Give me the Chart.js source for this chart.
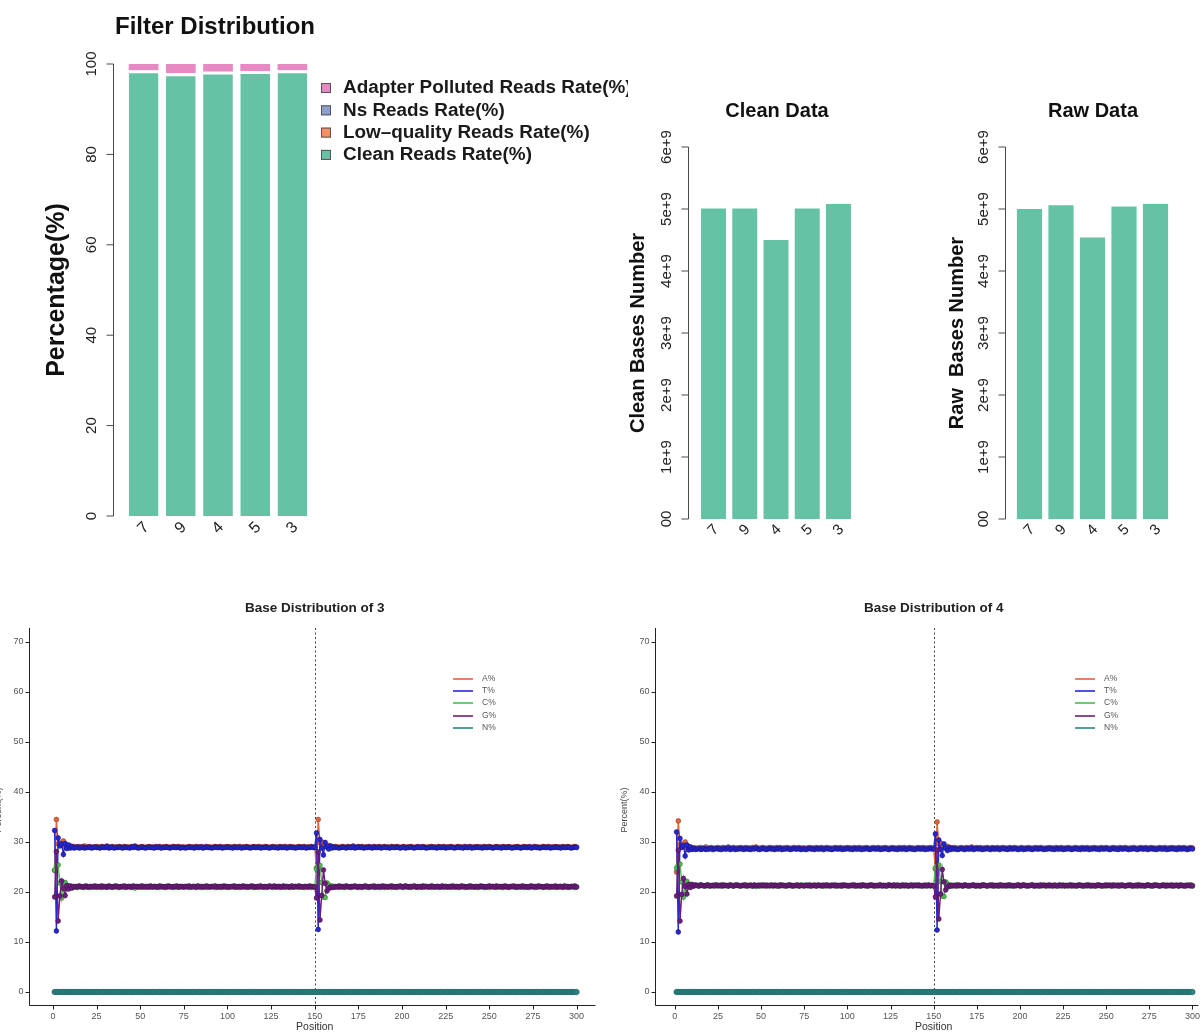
<!DOCTYPE html>
<html lang="en">
<head>
<meta charset="utf-8">
<title>Filter and base distribution</title>
<script src="https://cdn.jsdelivr.net/npm/chart.js@4.4.1/dist/chart.umd.min.js"></script>
<style>
  html, body { margin: 0; padding: 0; background: #fff; }
  #fig { position: relative; width: 1203px; height: 1032px; overflow: hidden; background: #fff; }
  #fig canvas { position: absolute; }
</style>
</head>
<body>
<div id="fig">
  <canvas id="filterChart" width="628" height="560" style="left:0px;top:0px;width:628px;height:560px"></canvas>
  <canvas id="cleanChart" width="320" height="470" style="left:620px;top:80px;width:320px;height:470px"></canvas>
  <canvas id="rawChart" width="263" height="470" style="left:940px;top:80px;width:263px;height:470px"></canvas>
  <canvas id="base3Chart" width="600" height="442" style="left:0px;top:590px;width:600px;height:442px"></canvas>
  <canvas id="base4Chart" width="603" height="442" style="left:600px;top:590px;width:603px;height:442px"></canvas>
</div>
<script>
// ---------- read filtering (percent of reads per sample) ----------
const samples = ['7', '9', '4', '5', '3'];
const cleanReadsRate = [98.2, 97.5, 97.9, 98.0, 98.2];
const lowQualityRate = [0.37, 0.45, 0.37, 0.37, 0.37];
const nsReadsRate = [0.05, 0.05, 0.05, 0.05, 0.05];
const adapterRate = [1.38, 2.0, 1.68, 1.58, 1.38];
const pctTicks = [0, 20, 40, 60, 80, 100];
const pctTickLabels = ['0', '20', '40', '60', '80', '100'];

// ---------- bases per sample ----------
const cleanBases = [5.01e9, 5.01e9, 4.50e9, 5.01e9, 5.08e9];
const rawBases = [5.00e9, 5.06e9, 4.54e9, 5.04e9, 5.08e9];
const baseTicks = [0, 1e9, 2e9, 3e9, 4e9, 5e9, 6e9];
const baseTickLabels = ['00', '1e+9', '2e+9', '3e+9', '4e+9', '5e+9', '6e+9'];

// ---------- base composition along the read (read 1: 1-150, read 2: 151-300) ----------
const positionTicks = [0, 25, 50, 75, 100, 125, 150, 175, 200, 225, 250, 275, 300];
const percentTicks = [0, 10, 20, 30, 40, 50, 60, 70];
const readBoundary = 150;

// sample 3
const aPct3 = [
24.3,34.5,29.6,29.8,29.4,30.2,29.1,29.3,28.8,29.2,29.0,29.1,28.9,29.0,29.1,28.9,29.0,29.2,28.9,29.0,29.1,29.0,28.9,29.0,29.1,
29.0,28.9,29.1,29.0,29.0,29.2,28.9,29.0,29.1,28.9,29.0,29.0,29.1,29.0,28.9,29.1,29.0,29.0,28.9,29.1,29.0,29.2,29.0,28.9,29.0,
29.1,29.0,28.9,29.0,29.1,29.0,29.0,28.9,29.1,29.0,29.1,28.9,29.0,29.0,29.1,29.0,28.9,29.0,29.1,29.0,29.0,29.1,28.9,29.0,29.0,
28.9,29.0,29.1,29.0,29.0,28.9,29.1,29.0,29.0,29.1,28.9,29.0,29.1,29.0,29.0,28.9,29.0,29.1,29.0,29.0,29.1,28.9,29.0,29.0,29.1,
29.0,29.0,28.9,29.1,29.0,29.0,29.1,28.9,29.0,29.0,29.1,29.0,28.9,29.0,29.1,29.0,29.0,29.1,28.9,29.0,29.0,29.1,29.0,28.9,29.0,
29.1,29.0,29.0,28.9,29.1,29.0,29.0,29.1,28.9,29.0,29.1,29.0,29.0,28.9,29.0,29.1,29.0,29.0,29.1,28.9,29.0,29.0,29.1,29.0,29.0,
24.8,34.5,29.8,30.0,29.2,29.5,29.0,29.3,28.9,29.1,29.0,29.1,29.0,28.9,29.0,29.1,29.0,28.9,29.1,29.0,29.0,29.2,28.9,29.0,29.1,
29.0,29.1,28.9,29.0,29.0,29.1,29.0,28.9,29.1,29.0,29.0,29.1,28.9,29.0,29.1,29.0,29.0,28.9,29.1,29.0,29.0,29.1,29.0,28.9,29.0,
29.1,28.9,29.0,29.0,29.1,29.0,28.9,29.0,29.1,29.0,29.0,29.1,29.0,28.9,29.0,29.0,29.1,29.0,29.0,28.9,29.1,29.0,29.0,29.1,28.9,
29.0,29.0,29.1,29.0,28.9,29.0,29.1,29.0,29.0,28.9,29.1,29.0,29.0,29.1,28.9,29.0,29.0,29.1,29.0,29.0,28.9,29.1,29.0,29.0,29.1,
29.0,28.9,29.0,29.1,29.0,29.0,28.9,29.1,29.0,29.0,29.1,29.0,28.9,29.0,29.0,29.1,29.0,28.9,29.0,29.1,29.0,29.0,29.1,28.9,29.0,
29.1,29.0,29.0,28.9,29.0,29.1,29.0,29.0,29.1,28.9,29.0,29.0,29.1,29.0,29.0,28.9,29.1,29.0,29.0,29.1,29.0,28.9,29.0,29.1,29.0
];
const tPct3 = [
32.3,12.2,30.8,29.2,29.6,27.5,29.7,28.7,29.4,28.8,29.1,28.8,28.9,29.0,28.8,28.9,29.0,28.8,28.9,28.9,29.0,28.8,28.9,29.0,28.9,
28.9,28.8,29.0,28.9,28.9,29.1,28.8,28.9,29.0,28.8,28.9,28.9,29.0,28.9,28.8,29.0,28.9,28.9,28.8,29.0,28.9,29.1,28.9,28.8,28.9,
29.0,28.9,28.8,28.9,29.0,28.9,28.9,28.8,29.0,28.9,29.0,28.8,28.9,28.9,29.0,28.9,28.8,28.9,29.0,28.9,28.9,29.0,28.8,28.9,28.9,
28.8,28.9,29.0,28.9,28.9,28.8,29.0,28.9,28.9,29.0,28.8,28.9,29.0,28.9,28.9,28.8,28.9,29.0,28.9,28.9,29.0,28.8,28.9,28.9,29.0,
28.9,28.9,28.8,29.0,28.9,28.9,29.0,28.8,28.9,28.9,29.0,28.9,28.8,28.9,29.0,28.9,28.9,29.0,28.8,28.9,28.9,29.0,28.9,28.8,28.9,
29.0,28.9,28.9,28.8,29.0,28.9,28.9,29.0,28.8,28.9,29.0,28.9,28.9,28.8,28.9,29.0,28.9,28.9,29.0,28.8,28.9,28.9,29.0,28.9,28.9,
31.8,12.5,30.5,28.8,27.4,29.9,29.0,28.6,29.2,28.8,29.0,28.9,28.9,28.8,28.9,29.0,28.9,28.8,29.0,28.9,28.9,29.1,28.8,28.9,29.0,
28.9,29.0,28.8,28.9,28.9,29.0,28.9,28.8,29.0,28.9,28.9,29.0,28.8,28.9,29.0,28.9,28.9,28.8,29.0,28.9,28.9,29.0,28.9,28.8,28.9,
29.0,28.8,28.9,28.9,29.0,28.9,28.8,28.9,29.0,28.9,28.9,29.0,28.9,28.8,28.9,28.9,29.0,28.9,28.9,28.8,29.0,28.9,28.9,29.0,28.8,
28.9,28.9,29.0,28.9,28.8,28.9,29.0,28.9,28.9,28.8,29.0,28.9,28.9,29.0,28.8,28.9,28.9,29.0,28.9,28.9,28.8,29.0,28.9,28.9,29.0,
28.9,28.8,28.9,29.0,28.9,28.9,28.8,29.0,28.9,28.9,29.0,28.9,28.8,28.9,28.9,29.0,28.9,28.8,28.9,29.0,28.9,28.9,29.0,28.8,28.9,
29.0,28.9,28.9,28.8,28.9,29.0,28.9,28.9,29.0,28.8,28.9,28.9,29.0,28.9,28.9,28.8,29.0,28.9,28.9,29.0,28.9,28.8,28.9,29.0,28.9
];
const cPct3 = [
24.4,25.2,25.4,21.8,18.8,21.6,21.9,20.7,21.2,20.8,21.1,21.0,21.0,20.9,21.1,21.0,21.0,20.9,21.1,21.0,20.9,21.0,21.1,21.0,20.9,
21.0,21.1,20.9,21.0,21.0,20.9,21.1,21.0,20.9,21.1,21.0,21.0,20.9,21.0,21.1,20.9,21.0,21.0,21.1,20.9,21.0,20.8,21.0,21.1,21.0,
20.9,21.0,21.1,21.0,20.9,21.0,21.0,21.1,20.9,21.0,20.9,21.1,21.0,21.0,20.9,21.0,21.1,21.0,20.9,21.0,21.0,20.9,21.1,21.0,21.0,
21.1,21.0,20.9,21.0,21.0,21.1,20.9,21.0,21.0,20.9,21.1,21.0,20.9,21.0,21.0,21.1,21.0,20.9,21.0,21.0,20.9,21.1,21.0,21.0,20.9,
21.0,21.0,21.1,20.9,21.0,21.0,20.9,21.1,21.0,21.0,20.9,21.0,21.1,21.0,20.9,21.0,21.0,20.9,21.1,21.0,21.0,20.9,21.0,21.1,21.0,
20.9,21.0,21.0,21.1,20.9,21.0,21.0,20.9,21.1,21.0,20.9,21.0,21.0,21.1,21.0,20.9,21.0,21.0,20.9,21.1,21.0,21.0,20.9,21.0,21.0,
24.6,25.0,25.3,21.9,19.0,18.9,21.8,21.4,20.9,21.2,21.0,21.0,21.1,20.9,21.0,21.0,20.9,21.1,21.0,21.0,20.9,21.0,21.1,21.0,20.9,
21.0,20.9,21.1,21.0,21.0,20.9,21.0,21.1,20.9,21.0,21.0,20.9,21.1,21.0,20.9,21.0,21.0,21.1,20.9,21.0,21.0,20.9,21.0,21.1,21.0,
20.9,21.1,21.0,21.0,20.9,21.0,21.1,21.0,20.9,21.0,21.0,20.9,21.0,21.1,21.0,21.0,20.9,21.0,21.0,21.1,20.9,21.0,21.0,20.9,21.1,
21.0,21.0,20.9,21.0,21.1,21.0,20.9,21.0,21.0,21.1,20.9,21.0,21.0,20.9,21.1,21.0,21.0,20.9,21.0,21.0,21.1,20.9,21.0,21.0,20.9,
21.0,21.1,21.0,20.9,21.0,21.0,21.1,20.9,21.0,21.0,20.9,21.0,21.1,21.0,21.0,20.9,21.0,21.1,21.0,20.9,21.0,21.0,20.9,21.1,21.0,
20.9,21.0,21.0,21.1,21.0,20.9,21.0,21.0,20.9,21.1,21.0,21.0,20.9,21.0,21.0,21.1,20.9,21.0,21.0,20.9,21.0,21.1,21.0,20.9,21.0
];
const gPct3 = [
19.0,28.1,14.2,19.2,22.2,20.7,19.3,21.3,20.6,21.2,20.8,21.1,21.1,21.0,21.2,21.1,21.0,21.1,21.2,21.0,21.1,21.1,21.0,21.2,21.1,
21.1,21.0,21.2,21.1,21.1,21.0,21.2,21.1,21.0,21.1,21.2,21.1,21.0,21.1,21.1,21.2,21.0,21.1,21.1,21.0,21.2,21.1,21.1,21.0,21.1,
21.2,21.1,21.0,21.1,21.1,21.2,21.0,21.1,21.1,21.0,21.2,21.1,21.1,21.0,21.1,21.2,21.1,21.0,21.1,21.1,21.2,21.0,21.1,21.1,21.0,
21.1,21.1,21.2,21.0,21.1,21.1,21.0,21.2,21.1,21.1,21.0,21.1,21.2,21.1,21.0,21.1,21.1,21.2,21.0,21.1,21.1,21.0,21.2,21.1,21.1,
21.0,21.1,21.1,21.2,21.0,21.1,21.1,21.0,21.2,21.1,21.1,21.0,21.1,21.2,21.1,21.0,21.1,21.1,21.2,21.0,21.1,21.1,21.0,21.2,21.1,
21.1,21.2,21.0,21.1,21.1,21.0,21.2,21.1,21.1,21.0,21.1,21.2,21.0,21.1,21.1,21.2,21.1,21.0,21.1,21.1,21.0,21.2,21.1,21.1,21.0,
18.8,28.0,14.4,19.3,24.4,21.7,20.2,20.7,21.0,20.9,21.0,21.1,21.0,21.2,21.1,21.1,21.0,21.2,21.1,21.0,21.1,21.1,21.2,21.0,21.1,
21.1,21.0,21.1,21.2,21.1,21.0,21.1,21.1,21.2,21.0,21.1,21.1,21.0,21.2,21.1,21.1,21.0,21.1,21.2,21.1,21.0,21.1,21.1,21.2,21.0,
21.1,21.2,21.1,21.0,21.1,21.1,21.2,21.0,21.1,21.1,21.0,21.2,21.1,21.1,21.0,21.1,21.2,21.1,21.0,21.1,21.1,21.0,21.2,21.1,21.1,
21.0,21.1,21.1,21.2,21.0,21.1,21.1,21.0,21.2,21.1,21.1,21.0,21.1,21.2,21.1,21.0,21.1,21.1,21.0,21.2,21.1,21.1,21.0,21.1,21.2,
21.1,21.1,21.0,21.2,21.1,21.1,21.0,21.1,21.2,21.1,21.0,21.1,21.1,21.2,21.0,21.1,21.1,21.0,21.2,21.1,21.1,21.0,21.1,21.2,21.1,
21.1,21.0,21.2,21.1,21.1,21.0,21.1,21.2,21.1,21.0,21.1,21.1,21.2,21.0,21.1,21.1,21.0,21.2,21.1,21.1,21.0,21.1,21.1,21.2,21.0
];
const nPct3 = [
0,0,0,0,0,0,0,0,0,0,0,0,0,0,0,0,0,0,0,0,0,0,0,0,0,
0,0,0,0,0,0,0,0,0,0,0,0,0,0,0,0,0,0,0,0,0,0,0,0,0,
0,0,0,0,0,0,0,0,0,0,0,0,0,0,0,0,0,0,0,0,0,0,0,0,0,
0,0,0,0,0,0,0,0,0,0,0,0,0,0,0,0,0,0,0,0,0,0,0,0,0,
0,0,0,0,0,0,0,0,0,0,0,0,0,0,0,0,0,0,0,0,0,0,0,0,0,
0,0,0,0,0,0,0,0,0,0,0,0,0,0,0,0,0,0,0,0,0,0,0,0,0,
0,0,0,0,0,0,0,0,0,0,0,0,0,0,0,0,0,0,0,0,0,0,0,0,0,
0,0,0,0,0,0,0,0,0,0,0,0,0,0,0,0,0,0,0,0,0,0,0,0,0,
0,0,0,0,0,0,0,0,0,0,0,0,0,0,0,0,0,0,0,0,0,0,0,0,0,
0,0,0,0,0,0,0,0,0,0,0,0,0,0,0,0,0,0,0,0,0,0,0,0,0,
0,0,0,0,0,0,0,0,0,0,0,0,0,0,0,0,0,0,0,0,0,0,0,0,0,
0,0,0,0,0,0,0,0,0,0,0,0,0,0,0,0,0,0,0,0,0,0,0,0,0
];

// sample 4
const aPct4 = [
24.0,34.2,29.5,29.6,29.0,30.0,28.9,29.1,28.6,28.9,28.8,28.8,28.7,28.8,28.9,28.7,28.8,29.0,28.7,28.8,28.9,28.8,28.7,28.8,28.9,
28.8,28.7,28.9,28.8,28.8,29.0,28.7,28.8,28.9,28.7,28.8,28.8,28.9,28.8,28.7,28.9,28.8,28.8,28.7,28.9,28.8,29.0,28.8,28.7,28.8,
28.9,28.8,28.7,28.8,28.9,28.8,28.8,28.7,28.9,28.8,28.9,28.7,28.8,28.8,28.9,28.8,28.7,28.8,28.9,28.8,28.8,28.9,28.7,28.8,28.8,
28.7,28.8,28.9,28.8,28.8,28.7,28.9,28.8,28.8,28.9,28.7,28.8,28.9,28.8,28.8,28.7,28.8,28.9,28.8,28.8,28.9,28.7,28.8,28.8,28.9,
28.8,28.8,28.7,28.9,28.8,28.8,28.9,28.7,28.8,28.8,28.9,28.8,28.7,28.8,28.9,28.8,28.8,28.9,28.7,28.8,28.8,28.9,28.8,28.7,28.8,
28.9,28.8,28.8,28.7,28.9,28.8,28.8,28.9,28.7,28.8,28.9,28.8,28.8,28.7,28.8,28.9,28.8,28.8,28.9,28.7,28.8,28.8,28.9,28.8,28.8,
24.6,34.0,29.6,29.8,29.0,29.3,28.8,29.1,28.7,28.9,28.8,28.9,28.8,28.7,28.8,28.9,28.8,28.7,28.9,28.8,28.8,29.0,28.7,28.8,28.9,
28.8,28.9,28.7,28.8,28.8,28.9,28.8,28.7,28.9,28.8,28.8,28.9,28.7,28.8,28.9,28.8,28.8,28.7,28.9,28.8,28.8,28.9,28.8,28.7,28.8,
28.9,28.7,28.8,28.8,28.9,28.8,28.7,28.8,28.9,28.8,28.8,28.9,28.8,28.7,28.8,28.8,28.9,28.8,28.8,28.7,28.9,28.8,28.8,28.9,28.7,
28.8,28.8,28.9,28.8,28.7,28.8,28.9,28.8,28.8,28.7,28.9,28.8,28.8,28.9,28.7,28.8,28.8,28.9,28.8,28.8,28.7,28.9,28.8,28.8,28.9,
28.8,28.7,28.8,28.9,28.8,28.8,28.7,28.9,28.8,28.8,28.9,28.8,28.7,28.8,28.8,28.9,28.8,28.7,28.8,28.9,28.8,28.8,28.9,28.7,28.8,
28.9,28.8,28.8,28.7,28.8,28.9,28.8,28.8,28.9,28.7,28.8,28.8,28.9,28.8,28.8,28.7,28.9,28.8,28.8,28.9,28.8,28.7,28.8,28.9,28.8
];
const tPct4 = [
32.0,12.0,30.7,28.9,29.3,27.2,29.4,28.4,29.0,28.5,28.7,28.5,28.6,28.7,28.5,28.6,28.7,28.5,28.6,28.6,28.7,28.5,28.6,28.7,28.6,
28.6,28.5,28.7,28.6,28.6,28.8,28.5,28.6,28.7,28.5,28.6,28.6,28.7,28.6,28.5,28.7,28.6,28.6,28.5,28.7,28.6,28.8,28.6,28.5,28.6,
28.7,28.6,28.5,28.6,28.7,28.6,28.6,28.5,28.7,28.6,28.7,28.5,28.6,28.6,28.7,28.6,28.5,28.6,28.7,28.6,28.6,28.7,28.5,28.6,28.6,
28.5,28.6,28.7,28.6,28.6,28.5,28.7,28.6,28.6,28.7,28.5,28.6,28.7,28.6,28.6,28.5,28.6,28.7,28.6,28.6,28.7,28.5,28.6,28.6,28.7,
28.6,28.6,28.5,28.7,28.6,28.6,28.7,28.5,28.6,28.6,28.7,28.6,28.5,28.6,28.7,28.6,28.6,28.7,28.5,28.6,28.6,28.7,28.6,28.5,28.6,
28.7,28.6,28.6,28.5,28.7,28.6,28.6,28.7,28.5,28.6,28.7,28.6,28.6,28.5,28.6,28.7,28.6,28.6,28.7,28.5,28.6,28.6,28.7,28.6,28.6,
31.6,12.4,30.4,28.5,27.3,29.6,28.8,28.3,28.9,28.5,28.7,28.6,28.6,28.5,28.6,28.7,28.6,28.5,28.7,28.6,28.6,28.8,28.5,28.6,28.7,
28.6,28.7,28.5,28.6,28.6,28.7,28.6,28.5,28.7,28.6,28.6,28.7,28.5,28.6,28.7,28.6,28.6,28.5,28.7,28.6,28.6,28.7,28.6,28.5,28.6,
28.7,28.5,28.6,28.6,28.7,28.6,28.5,28.6,28.7,28.6,28.6,28.7,28.6,28.5,28.6,28.6,28.7,28.6,28.6,28.5,28.7,28.6,28.6,28.7,28.5,
28.6,28.6,28.7,28.6,28.5,28.6,28.7,28.6,28.6,28.5,28.7,28.6,28.6,28.7,28.5,28.6,28.6,28.7,28.6,28.6,28.5,28.7,28.6,28.6,28.7,
28.6,28.5,28.6,28.7,28.6,28.6,28.5,28.7,28.6,28.6,28.7,28.6,28.5,28.6,28.6,28.7,28.6,28.5,28.6,28.7,28.6,28.6,28.7,28.5,28.6,
28.7,28.6,28.6,28.5,28.6,28.7,28.6,28.6,28.7,28.5,28.6,28.6,28.7,28.6,28.6,28.5,28.7,28.6,28.6,28.7,28.6,28.5,28.6,28.7,28.6
];
const cPct4 = [
24.8,25.4,25.6,22.0,19.0,21.7,22.1,21.0,21.5,21.1,21.3,21.3,21.3,21.2,21.4,21.3,21.3,21.2,21.4,21.3,21.2,21.3,21.4,21.3,21.2,
21.3,21.4,21.2,21.3,21.3,21.2,21.4,21.3,21.2,21.4,21.3,21.3,21.2,21.3,21.4,21.2,21.3,21.3,21.4,21.2,21.3,21.1,21.3,21.4,21.3,
21.2,21.3,21.4,21.3,21.2,21.3,21.3,21.4,21.2,21.3,21.2,21.4,21.3,21.3,21.2,21.3,21.4,21.3,21.2,21.3,21.3,21.2,21.4,21.3,21.3,
21.4,21.3,21.2,21.3,21.3,21.4,21.2,21.3,21.3,21.2,21.4,21.3,21.2,21.3,21.3,21.4,21.3,21.2,21.3,21.3,21.2,21.4,21.3,21.3,21.2,
21.3,21.3,21.4,21.2,21.3,21.3,21.2,21.4,21.3,21.3,21.2,21.3,21.4,21.3,21.2,21.3,21.3,21.2,21.4,21.3,21.3,21.2,21.3,21.4,21.3,
21.2,21.3,21.3,21.4,21.2,21.3,21.3,21.2,21.4,21.3,21.2,21.3,21.3,21.4,21.3,21.2,21.3,21.3,21.2,21.4,21.3,21.3,21.2,21.3,21.3,
24.8,25.2,25.4,22.1,19.2,19.1,22.0,21.6,21.1,21.4,21.2,21.3,21.4,21.2,21.3,21.3,21.2,21.4,21.3,21.3,21.2,21.3,21.4,21.3,21.2,
21.3,21.2,21.4,21.3,21.3,21.2,21.3,21.4,21.2,21.3,21.3,21.2,21.4,21.3,21.2,21.3,21.3,21.4,21.2,21.3,21.3,21.2,21.3,21.4,21.3,
21.2,21.4,21.3,21.3,21.2,21.3,21.4,21.3,21.2,21.3,21.3,21.2,21.3,21.4,21.3,21.3,21.2,21.3,21.3,21.4,21.2,21.3,21.3,21.2,21.4,
21.3,21.3,21.2,21.3,21.4,21.3,21.2,21.3,21.3,21.4,21.2,21.3,21.3,21.2,21.4,21.3,21.3,21.2,21.3,21.3,21.4,21.2,21.3,21.3,21.2,
21.3,21.4,21.3,21.2,21.3,21.3,21.4,21.2,21.3,21.3,21.2,21.3,21.4,21.3,21.3,21.2,21.3,21.4,21.3,21.2,21.3,21.3,21.2,21.4,21.3,
21.2,21.3,21.3,21.4,21.3,21.2,21.3,21.3,21.2,21.4,21.3,21.3,21.2,21.3,21.3,21.4,21.2,21.3,21.3,21.2,21.3,21.4,21.3,21.2,21.3
];
const gPct4 = [
19.2,28.4,14.2,19.5,22.7,21.1,19.6,21.5,20.9,21.5,21.2,21.4,21.3,21.2,21.4,21.3,21.2,21.3,21.4,21.2,21.3,21.3,21.2,21.4,21.3,
21.3,21.2,21.4,21.3,21.3,21.2,21.4,21.3,21.2,21.3,21.4,21.3,21.2,21.3,21.3,21.4,21.2,21.3,21.3,21.2,21.4,21.3,21.3,21.2,21.3,
21.4,21.3,21.2,21.3,21.3,21.4,21.2,21.3,21.3,21.2,21.4,21.3,21.3,21.2,21.3,21.4,21.3,21.2,21.3,21.3,21.4,21.2,21.3,21.3,21.2,
21.3,21.3,21.4,21.2,21.3,21.3,21.2,21.4,21.3,21.3,21.2,21.3,21.4,21.3,21.2,21.3,21.3,21.4,21.2,21.3,21.3,21.2,21.4,21.3,21.3,
21.2,21.3,21.3,21.4,21.2,21.3,21.3,21.2,21.4,21.3,21.3,21.2,21.3,21.4,21.3,21.2,21.3,21.3,21.4,21.2,21.3,21.3,21.2,21.4,21.3,
21.3,21.4,21.2,21.3,21.3,21.2,21.4,21.3,21.3,21.2,21.3,21.4,21.2,21.3,21.3,21.4,21.3,21.2,21.3,21.3,21.2,21.4,21.3,21.3,21.2,
19.0,28.4,14.6,19.6,24.5,22.0,20.4,21.0,21.3,21.2,21.3,21.3,21.2,21.4,21.3,21.3,21.2,21.4,21.3,21.2,21.3,21.3,21.4,21.2,21.3,
21.3,21.2,21.3,21.4,21.3,21.2,21.3,21.3,21.4,21.2,21.3,21.3,21.2,21.4,21.3,21.3,21.2,21.3,21.4,21.3,21.2,21.3,21.3,21.4,21.2,
21.3,21.4,21.3,21.2,21.3,21.3,21.4,21.2,21.3,21.3,21.2,21.4,21.3,21.3,21.2,21.3,21.4,21.3,21.2,21.3,21.3,21.2,21.4,21.3,21.3,
21.2,21.3,21.3,21.4,21.2,21.3,21.3,21.2,21.4,21.3,21.3,21.2,21.3,21.4,21.3,21.2,21.3,21.3,21.2,21.4,21.3,21.3,21.2,21.3,21.4,
21.3,21.3,21.2,21.4,21.3,21.3,21.2,21.3,21.4,21.3,21.2,21.3,21.3,21.4,21.2,21.3,21.3,21.2,21.4,21.3,21.3,21.2,21.3,21.4,21.3,
21.3,21.2,21.4,21.3,21.3,21.2,21.3,21.4,21.3,21.2,21.3,21.3,21.4,21.2,21.3,21.3,21.2,21.4,21.3,21.3,21.2,21.3,21.3,21.4,21.2
];
const nPct4 = [
0,0,0,0,0,0,0,0,0,0,0,0,0,0,0,0,0,0,0,0,0,0,0,0,0,
0,0,0,0,0,0,0,0,0,0,0,0,0,0,0,0,0,0,0,0,0,0,0,0,0,
0,0,0,0,0,0,0,0,0,0,0,0,0,0,0,0,0,0,0,0,0,0,0,0,0,
0,0,0,0,0,0,0,0,0,0,0,0,0,0,0,0,0,0,0,0,0,0,0,0,0,
0,0,0,0,0,0,0,0,0,0,0,0,0,0,0,0,0,0,0,0,0,0,0,0,0,
0,0,0,0,0,0,0,0,0,0,0,0,0,0,0,0,0,0,0,0,0,0,0,0,0,
0,0,0,0,0,0,0,0,0,0,0,0,0,0,0,0,0,0,0,0,0,0,0,0,0,
0,0,0,0,0,0,0,0,0,0,0,0,0,0,0,0,0,0,0,0,0,0,0,0,0,
0,0,0,0,0,0,0,0,0,0,0,0,0,0,0,0,0,0,0,0,0,0,0,0,0,
0,0,0,0,0,0,0,0,0,0,0,0,0,0,0,0,0,0,0,0,0,0,0,0,0,
0,0,0,0,0,0,0,0,0,0,0,0,0,0,0,0,0,0,0,0,0,0,0,0,0,
0,0,0,0,0,0,0,0,0,0,0,0,0,0,0,0,0,0,0,0,0,0,0,0,0
];

// read positions 1..300
const positions = Array.from({ length: aPct3.length }, (_, i) => i + 1);

// ---------- styling ----------
const FONT = '"Liberation Sans", Arial, Helvetica, sans-serif';
const GREEN = '#66C2A5', ORANGE = '#FC8D62', BLUE = '#8DA0CB', PINK = '#E78AC3';
const BASE_COLORS = { 'A%': '#E2653A', 'T%': '#2626D2', 'C%': '#4DBF4D', 'G%': '#6C1E7C', 'N%': '#2B8583' };
const BASE_EDGES = { 'A%': '#9A3A1C', 'T%': '#15157A', 'C%': '#2D7A2D', 'G%': '#43104D', 'N%': '#1E5F5D' };

function drawText(ctx, s, x, y, font, color, angleDeg, align, baseline) {
  ctx.save();
  ctx.translate(x, y);
  if (angleDeg) ctx.rotate(angleDeg * Math.PI / 180);
  ctx.font = font;
  ctx.fillStyle = color;
  ctx.textAlign = align || 'center';
  ctx.textBaseline = baseline || 'middle';
  ctx.fillText(s, 0, 0);
  ctx.restore();
}

// R-style detached left axis, rotated labels, titles and optional legend for the bar panels
const barDecor = {
  id: 'barDecor',
  afterDraw(chart, args, o) {
    const ctx = chart.ctx, xs = chart.scales.x, ys = chart.scales.y, ca = chart.chartArea;
    ctx.save();
    ctx.strokeStyle = '#4a4a4a';
    ctx.lineWidth = 1;
    const ax = o.axisX + 0.5;
    ctx.beginPath();
    ctx.moveTo(ax, ys.getPixelForValue(o.ticks[0]));
    ctx.lineTo(ax, ys.getPixelForValue(o.ticks[o.ticks.length - 1]));
    o.ticks.forEach(v => {
      const p = ys.getPixelForValue(v);
      ctx.moveTo(ax, p);
      ctx.lineTo(ax - o.tickLen, p);
    });
    ctx.stroke();
    o.ticks.forEach((v, i) => drawText(ctx, o.tickLabels[i], o.labelX, ys.getPixelForValue(v), o.tickFont, '#222', -90));
    chart.data.labels.forEach((lab, i) => drawText(ctx, lab, xs.getPixelForValue(i), o.catY, o.catFont, '#222', -45));
    drawText(ctx, o.yTitle, o.yTitleX, (ca.top + ca.bottom) / 2, o.yTitleFont, '#111', -90);
    drawText(ctx, o.title, o.titleX, o.titleY, o.titleFont, '#111', 0, o.titleAlign || 'center');
    if (o.legend) {
      const L = o.legend;
      chart.data.datasets.slice().reverse().forEach((ds, i) => {
        const y = L.y + i * L.step;
        ctx.fillStyle = ds.backgroundColor;
        ctx.fillRect(L.x, y - L.box / 2, L.box, L.box);
        ctx.strokeStyle = '#555';
        ctx.lineWidth = 1;
        ctx.strokeRect(L.x + 0.5, y - L.box / 2 + 0.5, L.box - 1, L.box - 1);
        drawText(ctx, ds.label, L.textX, y, L.font, '#1a1a1a', 0, 'left');
      });
    }
    ctx.restore();
  }
};

function barOptions(pad, ymax, decor) {
  return {
    responsive: false, animation: false, devicePixelRatio: 1,
    layout: { padding: pad },
    scales: {
      x: { display: false, stacked: true, offset: true },
      y: { display: false, stacked: true, min: 0, max: ymax }
    },
    datasets: { bar: { barPercentage: 0.8, categoryPercentage: 1 } },
    plugins: { legend: { display: false }, tooltip: { enabled: false }, barDecor: decor }
  };
}

// Filter Distribution (stacked percentages)
new Chart(document.getElementById('filterChart'), {
  type: 'bar',
  data: {
    labels: samples,
    datasets: [
      { label: 'Clean Reads Rate(%)', data: cleanReadsRate, backgroundColor: GREEN, borderColor: '#fff',
        borderWidth: { top: 1, bottom: 0, left: 0, right: 0 }, borderSkipped: false },
      { label: 'Low\u2013quality Reads Rate(%)', data: lowQualityRate, backgroundColor: ORANGE, borderColor: '#fff',
        borderWidth: 4, borderSkipped: false },
      { label: 'Ns Reads Rate(%)', data: nsReadsRate, backgroundColor: BLUE, borderColor: '#fff',
        borderWidth: 4, borderSkipped: false },
      { label: 'Adapter Polluted Reads Rate(%)', data: adapterRate, backgroundColor: PINK, borderWidth: 0 }
    ]
  },
  options: barOptions({ left: 125, right: 317, top: 64, bottom: 44 }, 100, {
    axisX: 113, tickLen: 7, labelX: 92, ticks: pctTicks, tickLabels: pctTickLabels, tickFont: '15px ' + FONT,
    catY: 528, catFont: '16px ' + FONT,
    yTitle: 'Percentage(%)', yTitleX: 57, yTitleFont: 'bold 25px ' + FONT,
    title: 'Filter Distribution', titleX: 115, titleY: 27, titleAlign: 'left', titleFont: 'bold 24px ' + FONT,
    legend: { x: 321, y: 88, step: 22.3, box: 10, textX: 343, font: 'bold 18.9px ' + FONT }
  }),
  plugins: [barDecor]
});

// Clean Data
new Chart(document.getElementById('cleanChart'), {
  type: 'bar',
  data: { labels: samples, datasets: [{ label: 'Clean Bases Number', data: cleanBases, backgroundColor: GREEN, borderWidth: 0 }] },
  options: barOptions({ left: 77.9, right: 85.9, top: 67, bottom: 31 }, 6e9, {
    axisX: 68, tickLen: 7, labelX: 47, ticks: baseTicks, tickLabels: baseTickLabels, tickFont: '15px ' + FONT,
    catY: 450, catFont: '15px ' + FONT,
    yTitle: 'Clean Bases Number', yTitleX: 18, yTitleFont: 'bold 20px ' + FONT,
    title: 'Clean Data', titleX: 157, titleY: 31, titleFont: 'bold 20px ' + FONT
  }),
  plugins: [barDecor]
});

// Raw Data
new Chart(document.getElementById('rawChart'), {
  type: 'bar',
  data: { labels: samples, datasets: [{ label: 'Raw Bases Number', data: rawBases, backgroundColor: GREEN, borderWidth: 0 }] },
  options: barOptions({ left: 73.75, right: 31.75, top: 67, bottom: 31 }, 6e9, {
    axisX: 65, tickLen: 7, labelX: 44, ticks: baseTicks, tickLabels: baseTickLabels, tickFont: '15px ' + FONT,
    catY: 450, catFont: '15px ' + FONT,
    yTitle: 'Raw  Bases Number', yTitleX: 17, yTitleFont: 'bold 20px ' + FONT,
    title: 'Raw Data', titleX: 153, titleY: 31, titleFont: 'bold 20px ' + FONT
  }),
  plugins: [barDecor]
});

// L-shaped axes, read boundary, title and legend for the composition panels
const compDecor = {
  id: 'compDecor',
  beforeDatasetsDraw(chart, args, o) {
    const ctx = chart.ctx, ca = chart.chartArea, xs = chart.scales.x;
    const x = Math.round(xs.getPixelForValue(o.divider)) + 0.5;
    ctx.save();
    ctx.strokeStyle = '#444';
    ctx.lineWidth = 1;
    ctx.setLineDash([2, 2.5]);
    ctx.beginPath();
    ctx.moveTo(x, ca.top);
    ctx.lineTo(x, ca.bottom);
    ctx.stroke();
    ctx.restore();
  },
  afterDraw(chart, args, o) {
    const ctx = chart.ctx, ca = chart.chartArea, xs = chart.scales.x, ys = chart.scales.y;
    ctx.save();
    ctx.strokeStyle = '#222';
    ctx.lineWidth = 1;
    const L = Math.round(ca.left) + 0.5, B = Math.round(ca.bottom) + 0.5;
    ctx.beginPath();
    ctx.moveTo(L, ca.top);
    ctx.lineTo(L, B);
    ctx.lineTo(ca.right, B);
    o.yTicks.forEach(v => { const p = Math.round(ys.getPixelForValue(v)) + 0.5; ctx.moveTo(L, p); ctx.lineTo(L - 4, p); });
    o.xTicks.forEach(v => { const p = Math.round(xs.getPixelForValue(v)) + 0.5; ctx.moveTo(p, B); ctx.lineTo(p, B + 4); });
    ctx.stroke();
    const tf = '9px ' + FONT;
    o.yTicks.forEach(v => drawText(ctx, String(v), L - 6, ys.getPixelForValue(v), tf, '#555', 0, 'right'));
    o.xTicks.forEach(v => drawText(ctx, String(v), xs.getPixelForValue(v), B + 11, tf, '#555', 0, 'center'));
    drawText(ctx, 'Position', xs.getPixelForValue(o.divider), B + 22, '10.5px ' + FONT, '#333');
    drawText(ctx, 'Percent(%)', o.yTitleX, o.yTitleY, '9px ' + FONT, '#444', -90);
    drawText(ctx, o.title, xs.getPixelForValue(o.divider), o.titleY, 'bold 13.5px ' + FONT, '#222');
    chart.data.datasets.forEach((ds, i) => {
      const y = Math.round(o.legendY + i * 12.2);
      ctx.strokeStyle = ds.borderColor;
      ctx.lineWidth = 1.6;
      ctx.beginPath();
      ctx.moveTo(o.legendX, y);
      ctx.lineTo(o.legendX + 20, y);
      ctx.stroke();
      drawText(ctx, ds.label, o.legendX + 29, y, '8.5px ' + FONT, '#555', 0, 'left');
    });
    ctx.restore();
  }
};

function compDatasets(a, t, c, g, n) {
  const spec = [['A%', a, 4], ['T%', t, 3], ['C%', c, 2], ['G%', g, 1], ['N%', n, 0]];
  return spec.map(([label, data, order]) => {
    const color = BASE_COLORS[label];
    return {
      label, data, order,
      borderColor: color, backgroundColor: color, pointBackgroundColor: color,
      pointBorderColor: BASE_EDGES[label],
      borderWidth: label === 'N%' ? 2 : 1.4,
      pointRadius: label === 'N%' ? 2.7 : 2.4,
      pointBorderWidth: 0.6, tension: 0, fill: false
    };
  });
}

function compChart(id, title, sets, geo) {
  new Chart(document.getElementById(id), {
    type: 'line',
    data: { labels: positions, datasets: sets },
    options: {
      responsive: false, animation: false, devicePixelRatio: 1,
      layout: { padding: geo.pad },
      scales: {
        x: { type: 'linear', display: false, min: geo.xmin, max: geo.xmax },
        y: { display: false, min: -2.6, max: 72.8 }
      },
      plugins: {
        legend: { display: false }, tooltip: { enabled: false },
        compDecor: {
          title, divider: readBoundary, xTicks: positionTicks, yTicks: percentTicks,
          titleY: 18, yTitleX: geo.yTitleX, yTitleY: 220, legendX: geo.legendX, legendY: 89
        }
      }
    },
    plugins: [compDecor]
  });
}

compChart('base3Chart', 'Base Distribution of 3', compDatasets(aPct3, tPct3, cPct3, gPct3, nPct3),
  { pad: { left: 29, right: 2, top: 38, bottom: 27 }, xmin: -13.69, xmax: 310.8, yTitleX: -1, legendX: 453 });
compChart('base4Chart', 'Base Distribution of 4', compDatasets(aPct4, tPct4, cPct4, gPct4, nPct4),
  { pad: { left: 55, right: 0, top: 38, bottom: 27 }, xmin: -11.49, xmax: 303.45, yTitleX: 25, legendX: 475 });
</script>
</body>
</html>
